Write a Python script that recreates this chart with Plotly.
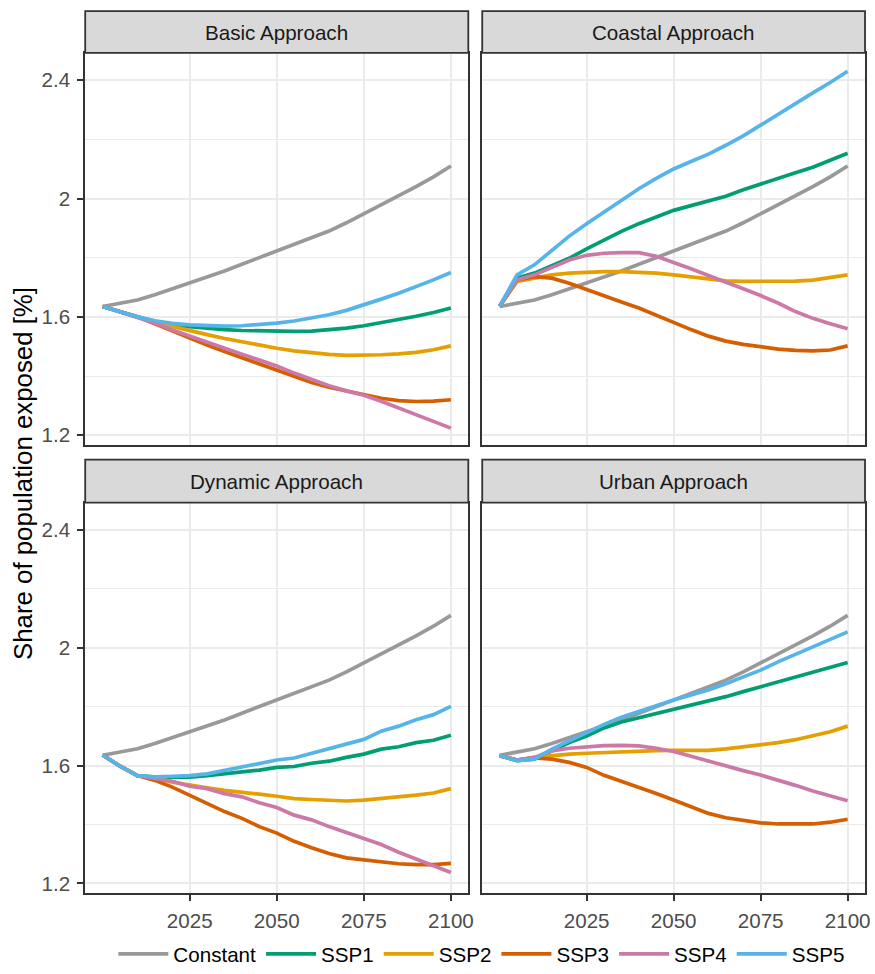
import plotly.graph_objects as go

years = list(range(2000, 2101, 5))

scenarios = ["Constant", "SSP1", "SSP2", "SSP3", "SSP4", "SSP5"]
colors = ["#999999", "#009E73", "#E69F00", "#D55E00", "#CC79A7", "#56B4E9"]
panel_titles = ["Basic Approach", "Coastal Approach", "Dynamic Approach", "Urban Approach"]

constant = [1.635, 1.645, 1.657, 1.675, 1.695, 1.713, 1.732, 1.755, 1.778, 1.800, 1.822,
            1.843, 1.865, 1.890, 1.918, 1.948, 1.978, 2.010, 2.040, 2.073, 2.110]

basic_ssp1 = [1.635, 1.617, 1.600, 1.585, 1.574, 1.567, 1.561, 1.557, 1.554, 1.552, 1.551,
              1.551, 1.552, 1.556, 1.562, 1.570, 1.580, 1.590, 1.602, 1.615, 1.630]
basic_ssp2 = [1.635, 1.617, 1.600, 1.583, 1.568, 1.553, 1.540, 1.527, 1.515, 1.504, 1.494,
              1.485, 1.478, 1.473, 1.470, 1.470, 1.472, 1.475, 1.480, 1.489, 1.502]
basic_ssp3 = [1.635, 1.617, 1.600, 1.577, 1.552, 1.530, 1.505, 1.483, 1.462, 1.440, 1.418,
              1.397, 1.378, 1.362, 1.349, 1.336, 1.325, 1.317, 1.314, 1.315, 1.320]
basic_ssp4 = [1.635, 1.617, 1.600, 1.579, 1.556, 1.535, 1.513, 1.494, 1.474, 1.454, 1.434,
              1.410, 1.388, 1.367, 1.350, 1.335, 1.315, 1.292, 1.268, 1.245, 1.224]
basic_ssp5 = [1.635, 1.617, 1.600, 1.587, 1.578, 1.573, 1.570, 1.569, 1.570, 1.574, 1.579,
              1.586, 1.595, 1.607, 1.622, 1.640, 1.660, 1.680, 1.702, 1.725, 1.750]

coastal_ssp1 = [1.636, 1.731, 1.748, 1.772, 1.798, 1.830, 1.860, 1.889, 1.915, 1.938, 1.960,
                1.976, 1.992, 2.008, 2.030, 2.050, 2.068, 2.087, 2.106, 2.130, 2.153]
coastal_ssp2 = [1.636, 1.720, 1.731, 1.742, 1.748, 1.752, 1.753, 1.753, 1.752, 1.748, 1.742,
                1.735, 1.727, 1.722, 1.720, 1.720, 1.720, 1.721, 1.724, 1.732, 1.742]
coastal_ssp3 = [1.636, 1.725, 1.736, 1.731, 1.714, 1.692, 1.669, 1.650, 1.630, 1.605, 1.580,
                1.557, 1.535, 1.518, 1.507, 1.498, 1.491, 1.487, 1.485, 1.488, 1.502]
coastal_ssp4 = [1.636, 1.725, 1.742, 1.768, 1.792, 1.808, 1.815, 1.817, 1.817, 1.805, 1.785,
                1.763, 1.740, 1.716, 1.695, 1.672, 1.647, 1.618, 1.595, 1.577, 1.560]
coastal_ssp5 = [1.636, 1.742, 1.776, 1.826, 1.873, 1.915, 1.955, 1.995, 2.033, 2.068, 2.100,
                2.125, 2.150, 2.180, 2.212, 2.248, 2.285, 2.320, 2.357, 2.392, 2.430]

dynamic_ssp1 = [1.636, 1.598, 1.566, 1.561, 1.561, 1.561, 1.566, 1.572, 1.581, 1.585, 1.594,
                1.597, 1.608, 1.615, 1.628, 1.639, 1.656, 1.664, 1.678, 1.686, 1.703]
dynamic_ssp2 = [1.636, 1.598, 1.566, 1.558, 1.544, 1.533, 1.525, 1.516, 1.511, 1.503, 1.496,
                1.488, 1.485, 1.483, 1.480, 1.483, 1.488, 1.494, 1.500, 1.507, 1.522]
dynamic_ssp3 = [1.636, 1.598, 1.566, 1.550, 1.527, 1.500, 1.474, 1.444, 1.421, 1.393, 1.371,
                1.343, 1.321, 1.302, 1.287, 1.280, 1.273, 1.267, 1.264, 1.264, 1.268]
dynamic_ssp4 = [1.636, 1.598, 1.566, 1.555, 1.547, 1.530, 1.522, 1.505, 1.494, 1.474, 1.458,
                1.432, 1.416, 1.393, 1.373, 1.351, 1.332, 1.306, 1.284, 1.262, 1.237]
dynamic_ssp5 = [1.636, 1.598, 1.566, 1.562, 1.564, 1.566, 1.572, 1.583, 1.597, 1.606, 1.619,
                1.626, 1.641, 1.656, 1.673, 1.689, 1.717, 1.734, 1.756, 1.773, 1.801]

urban_ssp1 = [1.634, 1.617, 1.622, 1.650, 1.678, 1.700, 1.728, 1.748, 1.762, 1.777, 1.790,
              1.804, 1.818, 1.834, 1.851, 1.868, 1.885, 1.900, 1.916, 1.933, 1.950]
urban_ssp2 = [1.634, 1.619, 1.628, 1.634, 1.639, 1.642, 1.645, 1.648, 1.650, 1.651, 1.652,
              1.652, 1.652, 1.657, 1.664, 1.670, 1.678, 1.688, 1.700, 1.715, 1.734]
urban_ssp3 = [1.634, 1.619, 1.626, 1.622, 1.611, 1.594, 1.567, 1.547, 1.527, 1.505, 1.483,
              1.460, 1.438, 1.423, 1.413, 1.406, 1.402, 1.401, 1.402, 1.408, 1.418]
urban_ssp4 = [1.634, 1.619, 1.628, 1.650, 1.659, 1.664, 1.668, 1.669, 1.667, 1.659, 1.648,
              1.632, 1.615, 1.599, 1.583, 1.568, 1.552, 1.533, 1.514, 1.497, 1.481]
urban_ssp5 = [1.634, 1.617, 1.622, 1.656, 1.684, 1.712, 1.740, 1.764, 1.782, 1.803, 1.823,
              1.840, 1.857, 1.878, 1.900, 1.924, 1.952, 1.977, 2.002, 2.028, 2.054]

x_ticks = [2025, 2050, 2075, 2100]
y_ticks = [1.2, 1.6, 2.0, 2.4]
y_tick_text = ["1.2", "1.6", "2", "2.4"]
y_minor = [1.4, 1.8, 2.2]

panels = [
    [constant, basic_ssp1, basic_ssp2, basic_ssp3, basic_ssp4, basic_ssp5],
    [constant, coastal_ssp1, coastal_ssp2, coastal_ssp3, coastal_ssp4, coastal_ssp5],
    [constant, dynamic_ssp1, dynamic_ssp2, dynamic_ssp3, dynamic_ssp4, dynamic_ssp5],
    [constant, urban_ssp1, urban_ssp2, urban_ssp3, urban_ssp4, urban_ssp5],
]

W, H = 875, 974
FONT = "Liberation Sans, Arial, sans-serif"

# panel geometry (pixels)
xcols = [(85.7, 471.0), (485.0, 870.0)]
rows = [  # (strip_top, plot_top, plot_bottom)
    (11.3, 53.3, 449.3),
    (464.0, 507.3, 901.7),
]

def px_x(v):
    return v / W

def px_y(v):
    return 1 - v / H

fig = go.Figure()

for p, series in enumerate(panels):
    ax = "" if p == 0 else str(p + 1)
    for s, (name, col, vals) in enumerate(zip(scenarios, colors, series)):
        fig.add_trace(go.Scatter(
            x=years, y=vals, mode="lines", name=name,
            line=dict(color=col, width=3.7),
            xaxis="x" + ax, yaxis="y" + ax,
            legendgroup=name, showlegend=(p == 0),
            hoverinfo="skip",
        ))

layout = dict(
    width=W, height=H,
    margin=dict(l=0, r=0, t=0, b=0),
    paper_bgcolor="white", plot_bgcolor="white",
    font=dict(family=FONT, size=20.6, color="black"),
    showlegend=True,
    legend=dict(
        orientation="h", x=px_x(114), xanchor="left",
        y=px_y(942.7), yanchor="top",
        font=dict(family=FONT, size=20.6, color="black"),
        itemwidth=50, traceorder="normal",
        bgcolor="rgba(0,0,0,0)",
    ),
)

shapes = []
annotations = []
for p in range(4):
    r, c = divmod(p, 2)
    x0, x1 = xcols[c]
    st, pt, pb = rows[r]
    suffix = "" if p == 0 else str(p + 1)
    xa = dict(
        domain=[px_x(x0), px_x(x1)], range=[1995, 2105],
        tickvals=x_ticks, ticktext=[str(t) for t in x_ticks],
        showgrid=True, gridcolor="#EBEBEB", gridwidth=1.8,
        zeroline=False, showline=True, mirror=True,
        linecolor="#333333", linewidth=1.8,
        anchor="y" + suffix,
        tickfont=dict(family=FONT, size=20.6, color="#4D4D4D"),
    )
    if r == 1:
        xa.update(ticks="outside", ticklen=6, tickwidth=1.5, tickcolor="#333333",
                  showticklabels=True, ticklabelstandoff=2)
    else:
        xa.update(ticks="", showticklabels=False)
    ya = dict(
        domain=[px_y(pb), px_y(pt)], range=[1.1665, 2.4925],
        tickvals=y_ticks, ticktext=y_tick_text,
        showgrid=True, gridcolor="#EBEBEB", gridwidth=1.8,
        minor=dict(tickvals=y_minor, showgrid=True, gridcolor="#EBEBEB", gridwidth=1.4),
        zeroline=False, showline=True, mirror=True,
        linecolor="#333333", linewidth=1.8,
        anchor="x" + suffix,
        tickfont=dict(family=FONT, size=20.6, color="#4D4D4D"),
    )
    if c == 0:
        ya.update(ticks="outside", ticklen=6, tickwidth=1.5, tickcolor="#333333",
                  showticklabels=True, ticklabelstandoff=3)
    else:
        ya.update(ticks="", showticklabels=False)
    layout["xaxis" + suffix] = xa
    layout["yaxis" + suffix] = ya

    shapes.append(dict(
        type="rect", xref="paper", yref="paper",
        x0=px_x(x0), x1=px_x(x1), y0=px_y(pt), y1=px_y(st),
        fillcolor="#D9D9D9", line=dict(color="#333333", width=1.8), layer="above",
    ))
    annotations.append(dict(
        text=panel_titles[p], xref="paper", yref="paper",
        x=px_x((x0 + x1) / 2), y=px_y((st + pt) / 2),
        xanchor="center", yanchor="middle", showarrow=False,
        font=dict(family=FONT, size=20.6, color="#1A1A1A"),
    ))

annotations.append(dict(
    text="Share of population exposed [%]", xref="paper", yref="paper",
    x=px_x(23), y=px_y((53.3 + 901.7) / 2), textangle=-90,
    xanchor="center", yanchor="middle", showarrow=False,
    font=dict(family=FONT, size=25.8, color="black"),
))

layout["shapes"] = shapes
layout["annotations"] = annotations
fig.update_layout(**layout)

fig.write_html("out.html")
